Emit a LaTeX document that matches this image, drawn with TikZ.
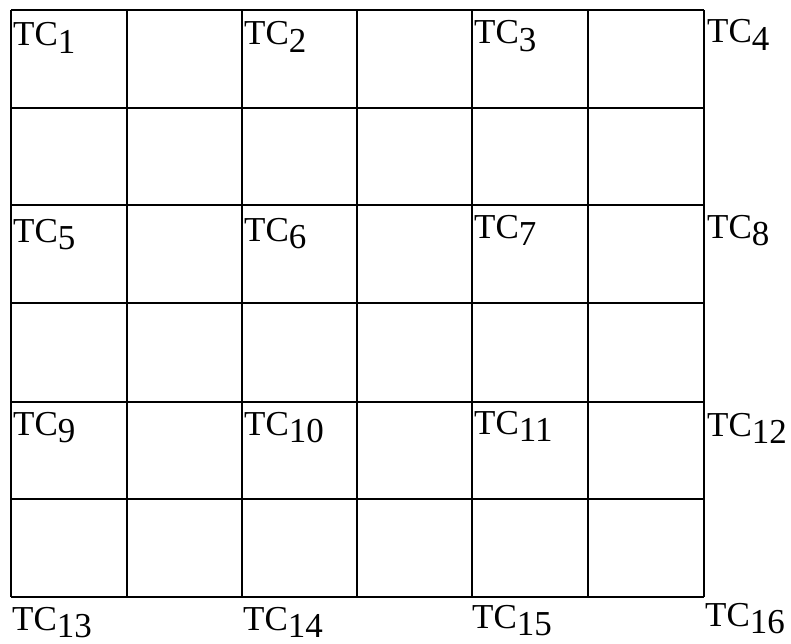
\documentclass[tikz,border=0pt]{standalone}
\usepackage{fontspec}
\setmainfont{Liberation Serif}
\newcommand{\tclab}[1]{TC\raisebox{-7.5pt}{#1}}
\begin{document}
\begin{tikzpicture}[x=1pt,y=-1pt,
  gridline/.style={line width=1.7pt,black},
  tclabel/.style={anchor=base west,inner sep=0pt,font=\fontsize{35}{37}\selectfont}]
\useasboundingbox (0,0) rectangle (791,644);
% grid
\foreach \x in {11,127,242,357,472,588,704}
  \draw[gridline] (\x,10) -- (\x,597);
\foreach \y in {10,108,205,303,402,499,597}
  \draw[gridline] (11,\y) -- (704,\y);
% labels
\node[tclabel] (tc1) at (13,46) {\tclab{1}};
\node[tclabel] (tc2) at (244,45) {\tclab{2}};
\node[tclabel] (tc3) at (474,44) {\tclab{3}};
\node[tclabel] (tc4) at (707,43) {\tclab{4}};
\node[tclabel] (tc5) at (13,242) {\tclab{5}};
\node[tclabel] (tc6) at (244,241) {\tclab{6}};
\node[tclabel] (tc7) at (474,238) {\tclab{7}};
\node[tclabel] (tc8) at (707,238) {\tclab{8}};
\node[tclabel] (tc9) at (13,435) {\tclab{9}};
\node[tclabel] (tc10) at (244,435) {\tclab{10}};
\node[tclabel] (tc11) at (474,434) {\tclab{11}};
\node[tclabel] (tc12) at (707,436) {\tclab{12}};
\node[tclabel] (tc13) at (12,630) {\tclab{13}};
\node[tclabel] (tc14) at (243,630) {\tclab{14}};
\node[tclabel] (tc15) at (472,628) {\tclab{15}};
\node[tclabel] (tc16) at (705,626) {\tclab{16}};
\end{tikzpicture}
\end{document}
